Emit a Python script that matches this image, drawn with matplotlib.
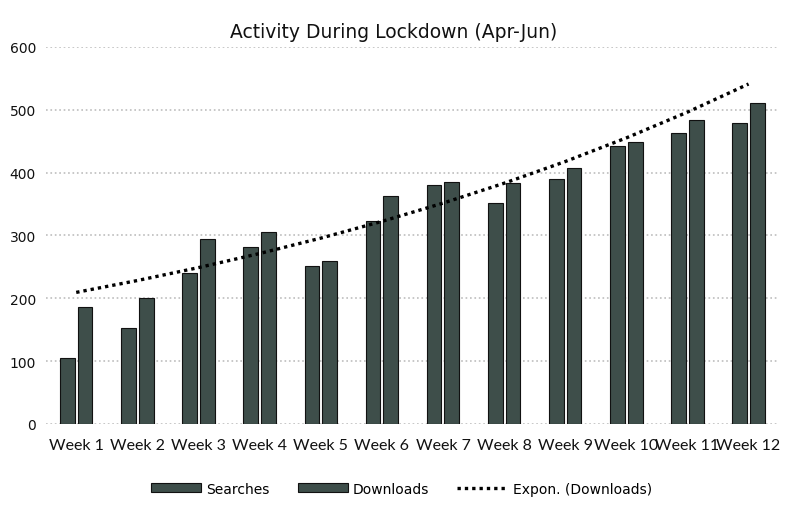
import matplotlib.pyplot as plt
import numpy as np

weeks = ['Week 1', 'Week 2', 'Week 3', 'Week 4', 'Week 5', 'Week 6',
         'Week 7', 'Week 8', 'Week 9', 'Week 10', 'Week 11', 'Week 12']
searches = [105, 153, 240, 282, 252, 323, 380, 352, 390, 442, 463, 479]
downloads = [186, 200, 294, 306, 260, 362, 385, 383, 408, 449, 484, 511]

bar_color = '#3e4e4a'

fig = plt.figure(figsize=(7.87, 5.10), dpi=100)
ax = fig.add_axes([0.058, 0.167, 0.932, 0.739])

x = np.arange(len(weeks))
w = 0.24
b1 = ax.bar(x - 0.145, searches, w, color=bar_color, edgecolor='#111111',
            linewidth=0.8, label='Searches', zorder=3)
b2 = ax.bar(x + 0.145, downloads, w, color=bar_color, edgecolor='#111111',
            linewidth=0.8, label='Downloads', zorder=3)

# exponentielle Trendlinie wie in Excel (Fit von log(Downloads))
k, c = np.polyfit(x + 1, np.log(downloads), 1)
trend = np.exp(c + k * (x + 1))
ln, = ax.plot(x, trend, color='black', linestyle=(0, (1, 1.2)), linewidth=2.4,
              label='Expon. (Downloads)', zorder=4)

ax.set_xlim(-0.5, len(weeks) - 0.5)
ax.set_ylim(0, 600)
ax.set_yticks(range(0, 601, 100))
ax.yaxis.grid(True, color='#bdbdbd', linestyle=':', linewidth=1.2, zorder=0)
ax.set_axisbelow(True)
for s in ax.spines.values():
    s.set_visible(False)
ax.tick_params(length=0)
ax.set_xticks(x)
ax.set_xticklabels(weeks, fontsize=11.5, family='Lato', color='#111111')
ax.tick_params(axis='x', pad=10)
ax.tick_params(axis='y', pad=7, labelsize=10, labelcolor='#111111')

fig.suptitle('Activity During Lockdown (Apr-Jun)', y=0.955, fontsize=13.5,
             color='#111111')

fig.legend(handles=[b1, b2, ln], loc='center', bbox_to_anchor=(0.51, 0.04),
           ncol=3, frameon=False, fontsize=10, handlelength=3.6,
           handleheight=0.6, columnspacing=2.0, handletextpad=0.4)

fig.savefig('out.png', dpi=100)
